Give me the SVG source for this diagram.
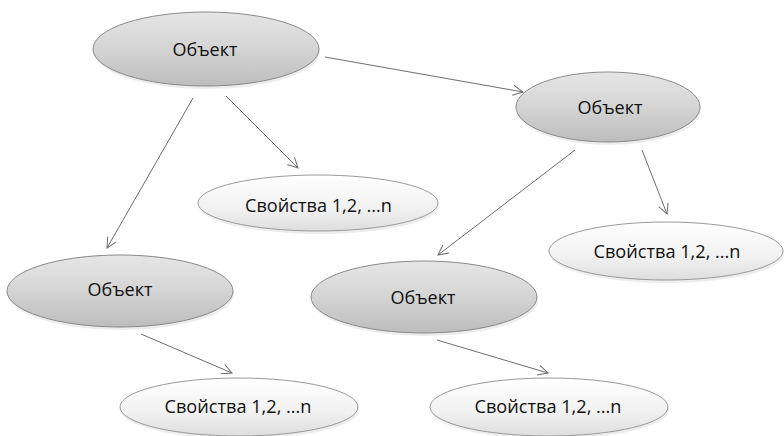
<svg xmlns="http://www.w3.org/2000/svg" width="784" height="436" viewBox="0 0 784 436">
<defs>
<linearGradient id="gObj" x1="0" y1="0" x2="0" y2="1">
<stop offset="0" stop-color="#e6e6e6"/>
<stop offset="0.5" stop-color="#d4d4d4"/>
<stop offset="1" stop-color="#bdbdbd"/>
</linearGradient>
<linearGradient id="gProp" x1="0" y1="0" x2="0" y2="1">
<stop offset="0" stop-color="#ffffff"/>
<stop offset="0.6" stop-color="#f1f1f1"/>
<stop offset="1" stop-color="#dedede"/>
</linearGradient>
<marker id="arr" viewBox="0 0 12 12" refX="11" refY="6" markerWidth="12" markerHeight="12" markerUnits="userSpaceOnUse" orient="auto">
<path d="M1,1 L11,6 L1,11" fill="none" stroke="#6e6e6e" stroke-width="1"/>
</marker>
</defs>
<style>
.obj{fill:url(#gObj);stroke:#8a8a8a;stroke-width:1}
.prop{fill:url(#gProp);stroke:#9a9a9a;stroke-width:1}
.sh{fill:#000;opacity:0.07}
.t{font-family:"Open Sans","Liberation Sans",sans-serif;font-size:18px;fill:#111;text-anchor:middle}
.c{stroke:#6e6e6e;stroke-width:1;fill:none;marker-end:url(#arr)}
</style>
<rect width="784" height="436" fill="#ffffff"/>
<g id="connectors">
<line class="c" x1="325" y1="57" x2="523" y2="92"/>
<line class="c" x1="193" y1="98" x2="107" y2="248"/>
<line class="c" x1="226" y1="96" x2="298" y2="168"/>
<line class="c" x1="575" y1="150" x2="438" y2="255"/>
<line class="c" x1="642" y1="150" x2="667" y2="214"/>
<line class="c" x1="141" y1="334" x2="232" y2="373"/>
<line class="c" x1="437" y1="340" x2="548" y2="373"/>
</g>
<g id="obj1">
<ellipse class="sh" cx="207" cy="52" rx="113" ry="37"/>
<ellipse class="obj" cx="206" cy="49" rx="113" ry="37"/>
<text class="t" x="205" y="56">Объект</text>
</g>
<g id="obj2">
<ellipse class="sh" cx="609" cy="110" rx="92" ry="35"/>
<ellipse class="obj" cx="608" cy="107" rx="92" ry="35"/>
<text class="t" x="610" y="114">Объект</text>
</g>
<g id="prop1">
<ellipse class="sh" cx="319" cy="206" rx="120" ry="28"/>
<ellipse class="prop" cx="318" cy="203" rx="120" ry="28"/>
<text class="t" x="318.5" y="212" textLength="147" lengthAdjust="spacingAndGlyphs">Свойства 1,2, ...n</text>
</g>
<g id="prop2">
<ellipse class="sh" cx="667" cy="254" rx="117" ry="29"/>
<ellipse class="prop" cx="666" cy="251" rx="117" ry="29"/>
<text class="t" x="667" y="258" textLength="147" lengthAdjust="spacingAndGlyphs">Свойства 1,2, ...n</text>
</g>
<g id="obj3">
<ellipse class="sh" cx="121" cy="294" rx="113" ry="36"/>
<ellipse class="obj" cx="120" cy="291" rx="113" ry="36"/>
<text class="t" x="120" y="296">Объект</text>
</g>
<g id="obj4">
<ellipse class="sh" cx="425" cy="300" rx="113" ry="36"/>
<ellipse class="obj" cx="424" cy="297" rx="113" ry="36"/>
<text class="t" x="423" y="304">Объект</text>
</g>
<g id="prop3">
<ellipse class="sh" cx="240" cy="410" rx="119" ry="29"/>
<ellipse class="prop" cx="239" cy="407" rx="119" ry="29"/>
<text class="t" x="238" y="413" textLength="147" lengthAdjust="spacingAndGlyphs">Свойства 1,2, ...n</text>
</g>
<g id="prop4">
<ellipse class="sh" cx="550" cy="410" rx="119" ry="29"/>
<ellipse class="prop" cx="549" cy="407" rx="119" ry="29"/>
<text class="t" x="548" y="413" textLength="147" lengthAdjust="spacingAndGlyphs">Свойства 1,2, ...n</text>
</g>
</svg>
